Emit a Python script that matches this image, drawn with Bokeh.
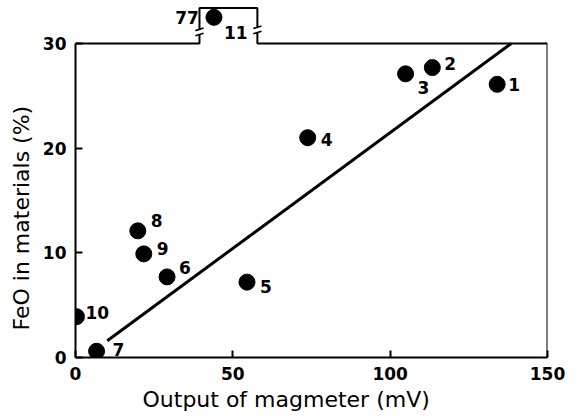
from bokeh.plotting import figure
from bokeh.models import ColumnDataSource, FixedTicker, Label, LabelSet, Title
from bokeh.core.properties import value
from bokeh.embed import file_html
from bokeh.resources import INLINE

# ---- data ----
sample_ids = ["1", "2", "3", "4", "5", "6", "7", "8", "9", "10", "11"]
magmeter_mv = [134.0, 113.4, 104.9, 73.8, 54.5, 29.1, 6.7, 19.8, 21.7, 0.3, 44.0]
feo_pct = [26.1, 27.7, 27.1, 21.0, 7.2, 7.7, 0.6, 12.1, 9.9, 3.9, 77.0]
fit_x = [10.1, 138.5]
fit_y = [1.6, 30.0]
x_ticks = [0, 50, 100, 150]
y_ticks = [0, 10, 20, 30]

# ---- styling / layout ----
FONT = "DejaVu Sans"
Y_TOP = 30.0          # top of normal axis
BREAK_POS = 32.5      # displayed position for off-scale values
BOX_X0, BOX_X1, BOX_TOP = 39.4, 57.8, 33.4
lab_dx = [11, 12, 12, 13, 13, 12, 16, 13, 13, 9, 10]
lab_dy = [0, 4, -14, -2, -4, 9, 2, 10, 5, 4, -15]

y_disp = [v if v <= Y_TOP else BREAK_POS for v in feo_pct]

src = ColumnDataSource(dict(x=magmeter_mv, y=y_disp, ids=sample_ids,
                            dx=lab_dx, dy=lab_dy))

p = figure(width=583, height=420, x_range=(0, 150), y_range=(0, 33.63),
           output_backend="svg", toolbar_location=None,
           min_border_left=75, min_border_right=36, min_border_top=5,
           min_border_bottom=63)
p.outline_line_color = None
p.grid.visible = False
p.background_fill_color = "white"

for ax in (p.xaxis, p.yaxis):
    ax.major_tick_in = 7
    ax.major_tick_out = 0
    ax.minor_tick_line_color = None
    ax.axis_line_width = 2
    ax.major_tick_line_width = 2
    ax.axis_line_color = "black"
    ax.major_tick_line_color = "black"
    ax.major_label_text_font = FONT
    ax.major_label_text_font_size = "17px"
    ax.major_label_text_font_style = "bold"
    ax.major_label_text_color = "black"
p.xaxis.ticker = FixedTicker(ticks=x_ticks)
p.yaxis.ticker = FixedTicker(ticks=y_ticks)
p.yaxis.bounds = (0, Y_TOP)
p.xaxis.major_label_standoff = 9
p.yaxis.major_label_standoff = 9

p.add_layout(Title(text="Output of magmeter (mV)", align="left", offset=67,
                   text_font=FONT, text_font_size="22px",
                   text_font_style="normal", text_color="black",
                   standoff=4), "below")
p.add_layout(Title(text="FeO in materials (%)", align="left", offset=27,
                   text_font=FONT, text_font_size="22px",
                   text_font_style="normal", text_color="black",
                   standoff=12), "left")

# frame with broken-axis box at top
lw = 2
p.line([150, 150], [0, Y_TOP], line_color="black", line_width=lw)
p.line([0, BOX_X0, BOX_X0, BOX_X1, BOX_X1, 150],
       [Y_TOP, Y_TOP, BOX_TOP, BOX_TOP, Y_TOP, Y_TOP],
       line_color="black", line_width=lw)
# break marks on box sides
for bx, by in ((BOX_X0, 31.1), (BOX_X1, 31.3)):
    p.rect([bx], [by], width=1.6, height=0.45, fill_color="white",
           line_color=None)
    for off in (-0.25, 0.25):
        p.line([bx - 1.3, bx + 1.3], [by + off - 0.12, by + off + 0.12],
               line_color="black", line_width=1.6)

# regression line
p.line(fit_x, fit_y, line_color="black", line_width=3)

# points
p.scatter("x", "y", source=src, size=16, fill_color="black",
          line_color="black")

labels = LabelSet(x="x", y="y", text="ids", source=src,
                  x_offset="dx", y_offset="dy",
                  text_font=value(FONT), text_font_size="17px",
                  text_font_style="bold", text_baseline="middle",
                  text_align="left", text_color="black")
p.add_layout(labels)

# off-scale value label
off_idx = [i for i, v in enumerate(feo_pct) if v > Y_TOP][0]
p.add_layout(Label(x=magmeter_mv[off_idx], y=BREAK_POS,
                   text=f"{feo_pct[off_idx]:g}", x_offset=-15, y_offset=0,
                   text_font=FONT, text_font_size="17px",
                   text_font_style="bold", text_align="right",
                   text_baseline="middle", text_color="black"))

open("out.html", "w").write(file_html(p, INLINE))
